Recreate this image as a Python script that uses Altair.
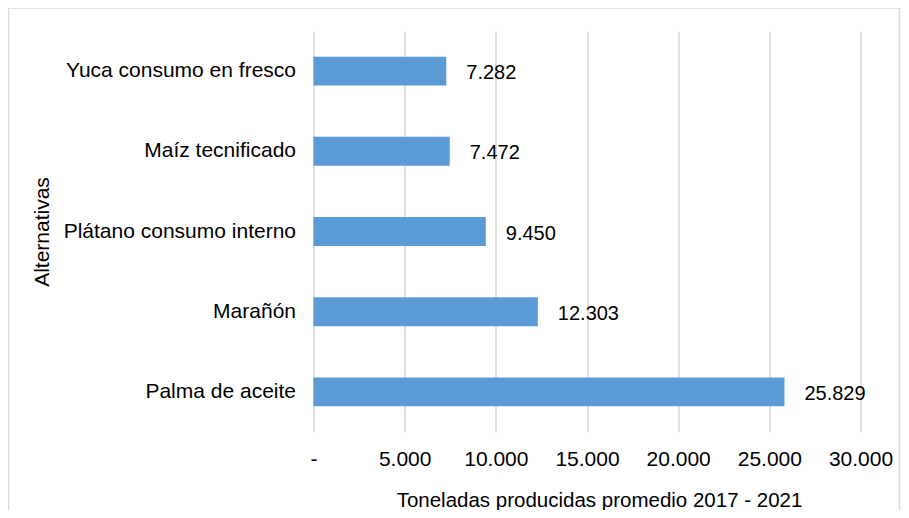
import altair as alt
import pandas as pd

categories = ["Yuca consumo en fresco", "Maíz tecnificado", "Plátano consumo interno", "Marañón", "Palma de aceite"]
values = [7282, 7472, 9450, 12303, 25829]
x_ticks = [0, 5000, 10000, 15000, 20000, 25000, 30000]
x_title = "Toneladas producidas promedio 2017 - 2021"
y_title = "Alternativas"


def fmt(v):
    return f"{v:,}".replace(",", ".")


df = pd.DataFrame({"cat": categories, "val": values, "label": [fmt(v) for v in values]})

FONT = "Liberation Sans"
BAR = "#5B9BD5"
GRID = "#d9d9d9"

y_enc = alt.Y(
    "cat:N",
    sort=categories,
    scale=alt.Scale(paddingInner=0.64, paddingOuter=0.32),
    axis=alt.Axis(
        title=y_title,
        ticks=False,
        domain=False,
        labelPadding=18,
        labelFontSize=21,
        labelFont=FONT,
        labelColor="#000000",
        labelLimit=400,
        titleFont=FONT,
        titleFontSize=21,
        titleFontWeight="normal",
        titleColor="#000000",
        titleX=-271.5,
        titleBaseline="middle",
    ),
)

x_enc = alt.X(
    "val:Q",
    scale=alt.Scale(domain=[0, 30000], nice=False),
    axis=alt.Axis(
        values=x_ticks,
        title=x_title,
        labelExpr="datum.value == 0 ? '-' : replace(format(datum.value, ','), ',', '.')",
        labelOverlap=False,
        labelFlush=False,
        ticks=False,
        domain=False,
        grid=True,
        gridColor=GRID,
        gridWidth=1.5,
        labelPadding=16,
        labelFontSize=21,
        labelFont=FONT,
        labelColor="#000000",
        titleFont=FONT,
        titleFontSize=20.5,
        titleFontWeight="normal",
        titleColor="#000000",
        titleX=285.5,
        titleY=68,
        titleAlign="center",
        titleBaseline="middle",
    ),
)

frame = alt.Chart(pd.DataFrame({"a": [0]})).mark_rect(
    fill=None, stroke=GRID, strokeWidth=1.5
).encode(
    x=alt.value(-305),
    x2=alt.value(586),
    y=alt.value(-23),
    y2=alt.value(700),
)

bars = alt.Chart(df).mark_bar(color=BAR).encode(x=x_enc, y=y_enc)

labels = alt.Chart(df).mark_text(
    align="left", baseline="middle", dx=20, dy=2, fontSize=20, font=FONT, color="#000000"
).encode(
    x=alt.X("val:Q"),
    y=alt.Y("cat:N", sort=categories),
    text="label:N",
)

chart = alt.layer(frame, bars, labels).properties(
    width=547,
    height=401,
    autosize=alt.AutoSizeParams(type="none"),
    padding={"left": 305.5, "top": 23, "right": 40.5, "bottom": 78},
).configure_view(stroke=None)

chart.save("out.html", embed_options={"renderer": "svg", "actions": False})
